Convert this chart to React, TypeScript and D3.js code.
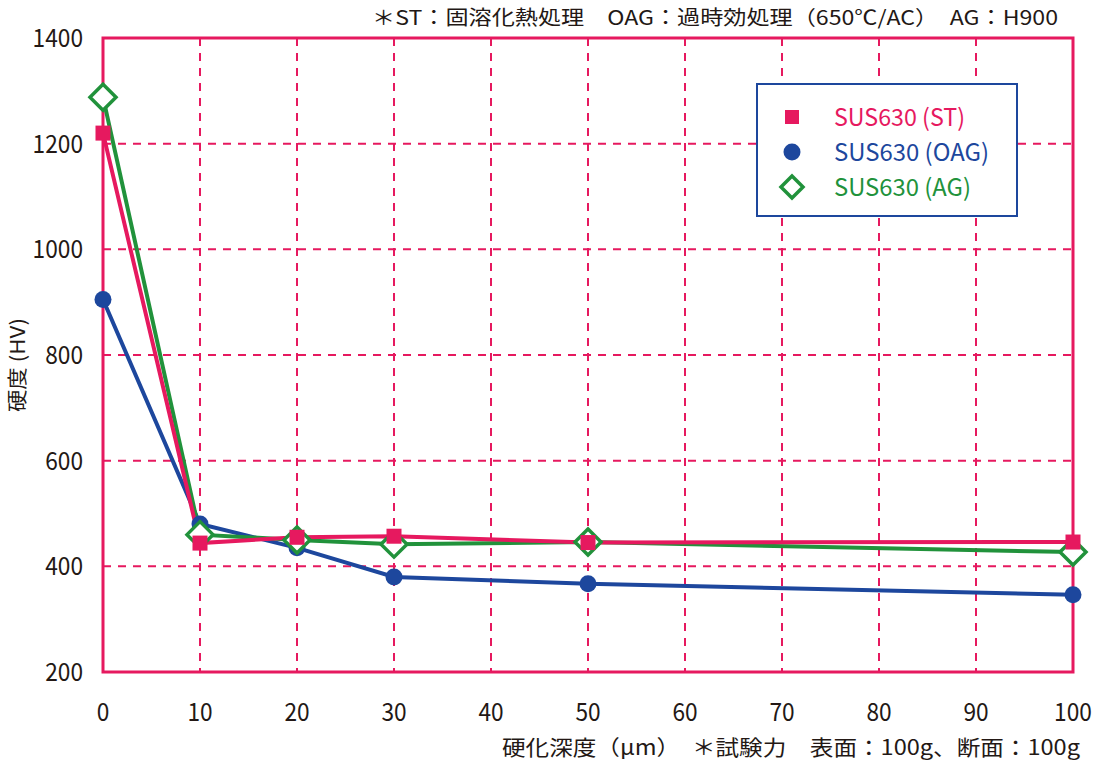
import React from "react";
import * as d3 from "d3";

const depth = [0, 10, 20, 30, 50, 100];
const seriesST = [1220, 444, 455, 457, 445, 446];
const seriesOAG = [905, 480, 435, 380, 367, 346];
const seriesAG = [1288, 460, 450, 442, 446, 427];
const xTicks = [0, 10, 20, 30, 40, 50, 60, 70, 80, 90, 100];
const yTicks = [200, 400, 600, 800, 1000, 1200, 1400];
const legendLabels = ["SUS630 (ST)", "SUS630 (OAG)", "SUS630 (AG)"];
const headerText = "＊ST：固溶化熱処理　OAG：過時効処理（650℃/AC）　AG：H900";
const xTitle = "硬化深度（μm）　＊試験力　表面：100g、断面：100g";
const yTitle = "硬度 (HV)";

const PINK = "#e6195f";
const BLUE = "#1d479d";
const GREEN = "#21923b";
const TEXT = "#231815";
const FONT = "'Noto Sans CJK JP', 'Noto Sans', sans-serif";

export default function App() {
  const W = 1095, H = 762;
  const x = d3.scaleLinear().domain([0, 100]).range([103, 1073]);
  const y = d3.scaleLinear().domain([200, 1400]).range([672, 38]);
  const line = d3
    .line<[number, number]>()
    .x((d) => x(d[0]))
    .y((d) => y(d[1]));
  const pts = (vals: number[]) => depth.map((d, i) => [d, vals[i]] as [number, number]);

  const sq = 15;
  const dm = 13;
  const r = 8.5;
  const digitW = 12.6;
  const legendWidths = [131, 155, 137];

  return (
    <div style={{ position: "absolute", left: 0, top: 0 }}>
      <svg width={W} height={H} style={{ display: "block", background: "#fff" }} fontFamily={FONT}>
        {/* grid */}
        {xTicks.slice(1, -1).map((t) => (
          <line key={"gx" + t} x1={x(t)} x2={x(t)} y1={y(1400)} y2={y(200)} stroke={PINK} strokeWidth={2} strokeDasharray="8,7" />
        ))}
        {yTicks.slice(1, -1).map((t) => (
          <line key={"gy" + t} x1={x(0)} x2={x(100)} y1={y(t)} y2={y(t)} stroke={PINK} strokeWidth={2} strokeDasharray="8,7" />
        ))}
        {/* frame */}
        <rect x={x(0)} y={y(1400)} width={x(100) - x(0)} height={y(200) - y(1400)} fill="none" stroke={PINK} strokeWidth={3} />

        {/* tick labels */}
        {yTicks.map((t) => (
          <text
            key={"yl" + t}
            x={83}
            y={y(t) + 9}
            textAnchor="end"
            fontSize={25}
            fill={TEXT}
            textLength={String(t).length * digitW}
            lengthAdjust="spacingAndGlyphs"
          >
            {t}
          </text>
        ))}
        {xTicks.map((t) => (
          <text
            key={"xl" + t}
            x={x(t)}
            y={721}
            textAnchor="middle"
            fontSize={25}
            fill={TEXT}
            textLength={String(t).length * digitW}
            lengthAdjust="spacingAndGlyphs"
          >
            {t}
          </text>
        ))}

        {/* titles */}
        <text x={372} y={25} fontSize={20} fill={TEXT} textLength={686} lengthAdjust="spacingAndGlyphs">
          {headerText}
        </text>
        <text x={502} y={755} fontSize={21} fill={TEXT} textLength={578} lengthAdjust="spacingAndGlyphs">
          {xTitle}
        </text>
        <text
          transform={`translate(25,365) rotate(-90)`}
          x={-47}
          fontSize={20}
          fill={TEXT}
          textLength={94}
          lengthAdjust="spacingAndGlyphs"
        >
          {yTitle}
        </text>

        {/* lines */}
        <path d={line(pts(seriesOAG)) || ""} fill="none" stroke={BLUE} strokeWidth={4} />
        <path d={line(pts(seriesAG)) || ""} fill="none" stroke={GREEN} strokeWidth={4} />
        <path d={line(pts(seriesST)) || ""} fill="none" stroke={PINK} strokeWidth={4} />

        {/* markers */}
        {pts(seriesOAG).map((p, i) => (
          <circle key={"c" + i} cx={x(p[0])} cy={y(p[1])} r={r} fill={BLUE} />
        ))}
        {pts(seriesAG).map((p, i) => (
          <path
            key={"d" + i}
            d={`M${x(p[0])},${y(p[1]) - dm}L${x(p[0]) + dm},${y(p[1])}L${x(p[0])},${y(p[1]) + dm}L${x(p[0]) - dm},${y(p[1])}Z`}
            fill="#fff"
            stroke={GREEN}
            strokeWidth={3.5}
          />
        ))}
        {pts(seriesST).map((p, i) => (
          <rect key={"s" + i} x={x(p[0]) - sq / 2} y={y(p[1]) - sq / 2} width={sq} height={sq} fill={PINK} />
        ))}

        {/* legend */}
        <rect x={757} y={84} width={260} height={132} fill="#fff" stroke={BLUE} strokeWidth={2} />
        <rect x={792 - 7} y={117 - 7} width={14} height={14} fill={PINK} />
        <circle cx={792} cy={152} r={8.5} fill={BLUE} />
        <path d={`M792,${187 - 11}L${792 + 11},187L792,${187 + 11}L${792 - 11},187Z`} fill="#fff" stroke={GREEN} strokeWidth={3.5} />
        {legendLabels.map((l, i) => (
          <text
            key={l}
            x={834}
            y={117 + i * 35 + 9}
            fontSize={24}
            fill={[PINK, BLUE, GREEN][i]}
            textLength={legendWidths[i]}
            lengthAdjust="spacingAndGlyphs"
          >
            {l}
          </text>
        ))}
      </svg>
    </div>
  );
}
